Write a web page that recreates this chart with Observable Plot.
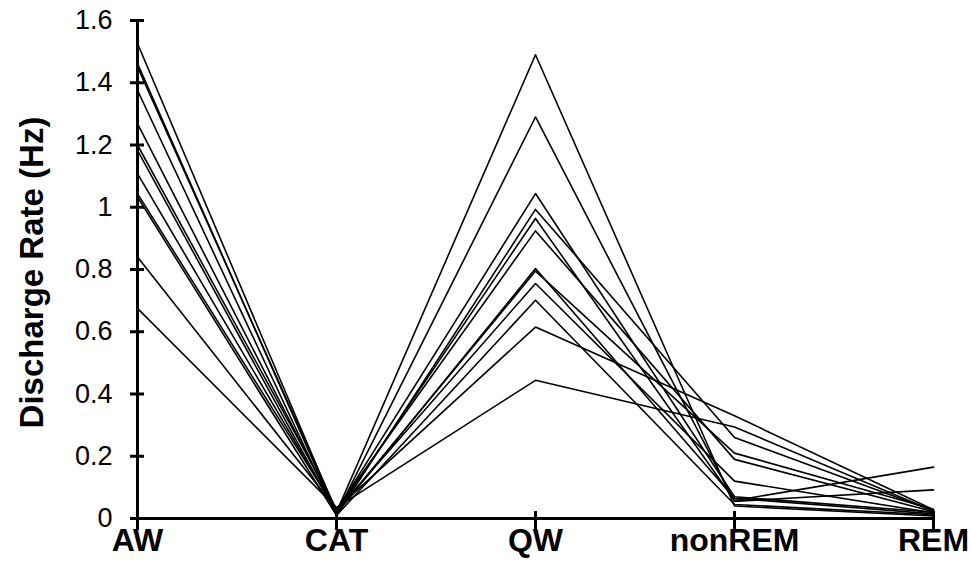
<!DOCTYPE html>
<html>
<head>
<meta charset="utf-8">
<script src="https://cdn.jsdelivr.net/npm/d3@7"></script>
<script src="https://cdn.jsdelivr.net/npm/@observablehq/plot@0.6"></script>
<style>
  html, body { margin: 0; padding: 0; background: #fff; }
  #chart { width: 970px; height: 580px; }
</style>
</head>
<body>
<div id="chart"></div>
<script>
const states = ["AW", "CAT", "QW", "nonREM", "REM"];
const yTicks = [0, 0.2, 0.4, 0.6, 0.8, 1, 1.2, 1.4, 1.6];
const yTickLabels = ["0", "0.2", "0.4", "0.6", "0.8", "1", "1.2", "1.4", "1.6"];
const yLabel = "Discharge Rate (Hz)";

// one value per cell, per state
const aw     = [1.526, 1.462, 1.451, 1.376, 1.269, 1.200, 1.183, 1.108, 1.044, 1.033, 0.840, 0.675];
const cat    = [0.020, 0.015, 0.025, 0.010, 0.020, 0.030, 0.015, 0.020, 0.025, 0.010, 0.030, 0.035];
const qw     = [1.490, 1.290, 1.044, 0.993, 0.964, 0.924, 0.803, 0.795, 0.755, 0.701, 0.615, 0.444];
const nonrem = [0.040, 0.055, 0.070, 0.260, 0.058, 0.190, 0.065, 0.210, 0.120, 0.045, 0.330, 0.294];
const rem    = [0.008, 0.092, 0.020, 0.025, 0.165, 0.022, 0.015, 0.030, 0.018, 0.012, 0.028, 0.024];

const series = [aw, cat, qw, nonrem, rem];
const rows = [];
aw.forEach((_, cell) => {
  states.forEach((s, i) => rows.push({cell, state: s, rate: series[i][cell]}));
});

const font = "'Liberation Sans', Arial, Helvetica, sans-serif";

const chart = Plot.plot({
  width: 970,
  height: 580,
  marginLeft: 136,
  marginRight: 37,
  marginTop: 20,
  marginBottom: 62,
  style: {fontFamily: font, color: "black", background: "white"},
  x: {type: "point", domain: states, padding: 0},
  y: {domain: [0, 1.6]},
  marks: [
    Plot.line(rows, {x: "state", y: "rate", z: "cell", stroke: "black", strokeWidth: 1.6}),
    Plot.ruleY([0], {stroke: "black", strokeWidth: 3}),
    Plot.ruleX([states[0]], {y1: 0, y2: 1.6, stroke: "black", strokeWidth: 3}),
    // y tick marks crossing the axis
    Plot.ruleY(yTicks, {y: (d) => d, x1: () => states[0], x2: () => states[0], insetLeft: -7, insetRight: -7, stroke: "black", strokeWidth: 3}),
    // x tick marks crossing the axis
    Plot.ruleX(states, {x: (d) => d, insetTop: 491, insetBottom: -12, stroke: "black", strokeWidth: 3}),
    Plot.axisY({
      ticks: yTicks,
      tickFormat: (d) => yTickLabels[yTicks.indexOf(d)],
      tickSize: 0, tickPadding: 24,
      fill: "black", fontSize: 27, label: null
    }),
    Plot.axisX({
      tickSize: 0, tickPadding: 10,
      fill: "black", fontSize: 32, fontWeight: "bold", label: null
    }),
    Plot.text([yLabel], {
      frameAnchor: "left", textAnchor: "middle", dx: -104, dy: 3, rotate: -90,
      fontSize: 33, fontWeight: "bold", fill: "black"
    })
  ]
});
document.getElementById("chart").appendChild(chart);
</script>
</body>
</html>
